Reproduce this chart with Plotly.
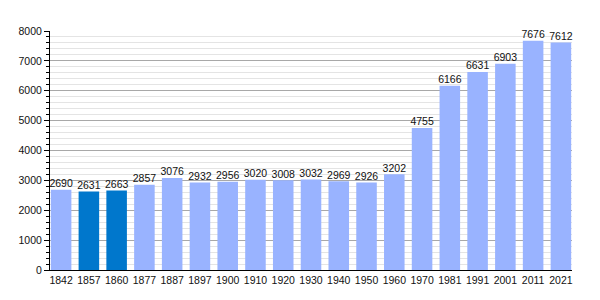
import plotly.graph_objects as go

years = ["1842", "1857", "1860", "1877", "1887", "1897", "1900", "1910", "1920", "1930",
         "1940", "1950", "1960", "1970", "1981", "1991", "2001", "2011", "2021"]
population = [2690, 2631, 2663, 2857, 3076, 2932, 2956, 3020, 3008, 3032,
              2969, 2926, 3202, 4755, 6166, 6631, 6903, 7676, 7612]
highlight = ["1857", "1860"]

light = "#99b3ff"
dark = "#0077cc"
colors = [dark if y in highlight else light for y in years]
FONT = "Liberation Sans, Arial, sans-serif"

fig = go.Figure()
fig.add_trace(go.Bar(
    x=years, y=population,
    marker=dict(color=colors, line=dict(width=0)),
    width=0.74,
    hoverinfo="x+y",
))
fig.add_trace(go.Scatter(
    x=years, y=population,
    mode="text",
    text=[str(v) for v in population],
    textposition="top center",
    textfont=dict(family=FONT, size=10.5, color="#111"),
    cliponaxis=False,
    hoverinfo="skip",
))

fig.update_layout(
    width=600, height=300,
    margin=dict(l=50, r=28, t=31, b=30),
    paper_bgcolor="white", plot_bgcolor="white",
    showlegend=False,
    font=dict(family=FONT, size=10.5, color="#111"),
)
fig.update_xaxes(
    type="category", range=[-0.4, len(years) - 1 + 0.4],
    showline=True, linecolor="black", linewidth=1,
    showgrid=False, ticks="", tickfont=dict(size=10.5),
)
fig.update_yaxes(
    range=[0, 8000], dtick=1000, tick0=0,
    showline=True, linecolor="black", linewidth=1,
    showgrid=True, gridcolor="#a8a8a8", gridwidth=1,
    ticks="outside", ticklen=5, tickcolor="black",
    zeroline=False, tickfont=dict(size=10.5),
    minor=dict(dtick=200, showgrid=True, gridcolor="#e4e4e4", ticks="outside",
               ticklen=3, tickcolor="black"),
)

fig.write_html("out.html")
